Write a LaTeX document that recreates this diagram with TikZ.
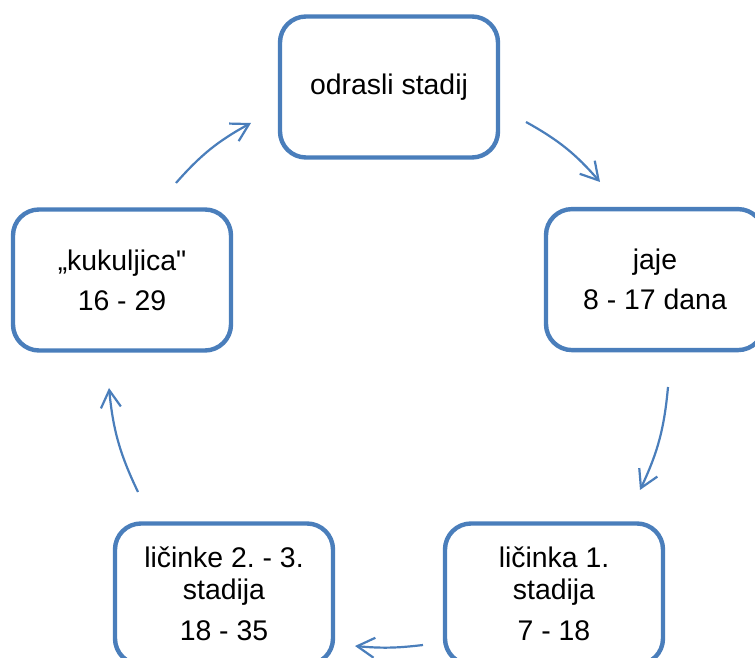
\documentclass[tikz,border=0pt]{standalone}
\usepackage{fontspec}
\setmainfont{Liberation Sans}[Ligatures=TeXOff]
\usetikzlibrary{arrows.meta}
\definecolor{cycleblue}{RGB}{74,126,187}
\frenchspacing

\begin{document}
\begin{tikzpicture}[%
>={Straight Barb[angle=60:10pt]},
x=1pt, y=1pt,
stage/.style={draw=cycleblue, line width=2.2pt, rounded corners=13pt,
  minimum width=109pt, minimum height=70.5pt, align=center,
  font=\fontsize{14.2}{16}\selectfont},
link/.style={->, draw=cycleblue, line width=1.1pt}
]
\useasboundingbox (0,0) rectangle (377.5,329);

\node[stage] (odrasli)   at (194.5,285.5) {odrasli stadij};
\node[stage] (jaje)      at (327.5,189.2) {jaje\\[4pt] 8 - 17 dana};
\node[stage] (licinka)   at (277,32)      {ličinka 1.\\ stadija\\[4.5pt] 7 - 18};
\node[stage] (licinke)   at (112,32)      {ličinke 2. - 3.\\ stadija\\[4.5pt] 18 - 35};
\node[stage] (kukuljica) at (61,189)      {„kukuljica"\\[4pt] 16 - 29};

% free ends of the arrows
\coordinate (a1) at (263,268);   \coordinate (b1) at (300,238);
\coordinate (a2) at (334,135.5); \coordinate (b2) at (320,84);
\coordinate (a3) at (211.5,6.5); \coordinate (b3) at (177.5,6);
\coordinate (a4) at (69,83);     \coordinate (b4) at (54.5,135);
\coordinate (a5) at (88,237.5);  \coordinate (b5) at (125.5,267.5);

\path (a1) edge[link, bend left=10] (b1);
\path (a2) edge[link, bend left=10] (b2);
\path (a3) edge[link, bend left=6] (b3);
\path (a4) edge[link, bend left=10] (b4);
\path (a5) edge[link, bend left=10] (b5);

\end{tikzpicture}
\end{document}
